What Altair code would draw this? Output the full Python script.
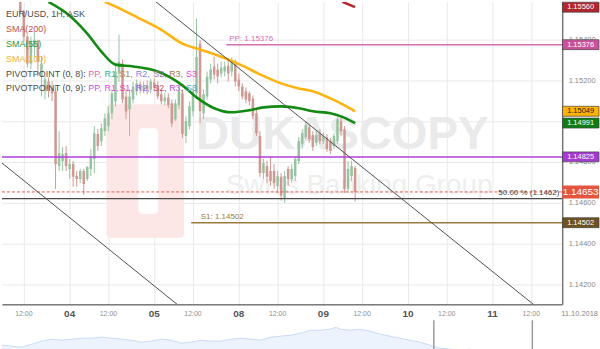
import altair as alt
import pandas as pd

# ---------------- data ----------------
HOURS = list(range(-19, 82))  # hourly candle index, 0 = day "04" 00:00
OPEN = [1.15708, 1.15659, 1.15620, 1.15645, 1.15620, 1.15600, 1.15537, 1.15415, 1.15283, 1.15366,
        1.15391, 1.15220, 1.15147, 1.15195, 1.15166, 1.15147, 1.14780, 1.14805, 1.14844,
        1.14766, 1.14790, 1.14731, 1.14717, 1.14756, 1.14717, 1.14766, 1.14815, 1.14937, 1.14902,
        1.14951, 1.14976, 1.15039, 1.15098, 1.15234, 1.15283, 1.15122, 1.15059, 1.15107, 1.15147,
        1.15181, 1.15156, 1.15176, 1.15156,
        1.15190, 1.15176, 1.15132, 1.15098, 1.15117, 1.15088, 1.15010, 1.15078, 1.15137, 1.14927,
        1.14976, 1.15049, 1.15137, 1.15381, 1.15039, 1.15122, 1.15205, 1.15269, 1.15254, 1.15234,
        1.15244, 1.15273, 1.15244, 1.15283,
        1.15205, 1.15171, 1.15147, 1.15137, 1.15112, 1.15039, 1.14927, 1.14746, 1.14780, 1.14756,
        1.14756, 1.14683, 1.14727, 1.14619, 1.14766, 1.14717, 1.14731, 1.14805, 1.14888, 1.14922,
        1.14971, 1.14932, 1.14893, 1.14941,
        1.14902, 1.14922, 1.14902, 1.14878, 1.14902, 1.15000, 1.14961, 1.14668, 1.14731, 1.14771]
HIGH = [1.15733, 1.15674, 1.15659, 1.15654, 1.15630, 1.15610, 1.15547, 1.15425, 1.15415, 1.15440,
        1.15400, 1.15317, 1.15220, 1.15215, 1.15195, 1.15171, 1.14951, 1.14873, 1.14878,
        1.14815, 1.14805, 1.14756, 1.14766, 1.14766, 1.14780, 1.14863, 1.14976, 1.14961, 1.14990,
        1.15039, 1.15073, 1.15156, 1.15283, 1.15425, 1.15303, 1.15156, 1.15156, 1.15195, 1.15205,
        1.15195, 1.15195, 1.15200, 1.15210,
        1.15210, 1.15195, 1.15156, 1.15137, 1.15137, 1.15107, 1.15107, 1.15171, 1.15156, 1.15024,
        1.15098, 1.15171, 1.15503, 1.15400, 1.15156, 1.15244, 1.15283, 1.15317, 1.15283, 1.15293,
        1.15293, 1.15308, 1.15313, 1.15303,
        1.15234, 1.15186, 1.15166, 1.15147, 1.15127, 1.15059, 1.14951, 1.14815, 1.14805, 1.14829,
        1.14790, 1.14756, 1.14746, 1.14756, 1.14780, 1.14790, 1.14829, 1.14922, 1.14961, 1.15000,
        1.14981, 1.14951, 1.14951, 1.14961,
        1.14946, 1.14937, 1.14917, 1.14941, 1.15020, 1.15020, 1.14976, 1.14805, 1.14805, 1.14780]
LOW = [1.15625, 1.15600, 1.15605, 1.15598, 1.15586, 1.15527, 1.15391, 1.15264, 1.15254, 1.15317,
       1.15220, 1.15122, 1.15107, 1.15117, 1.15098, 1.14668, 1.14756, 1.14756, 1.14756,
       1.14717, 1.14678, 1.14678, 1.14697, 1.14639, 1.14707, 1.14731, 1.14746, 1.14854, 1.14878,
       1.14927, 1.14951, 1.15010, 1.15073, 1.15195, 1.15088, 1.15010, 1.14927, 1.15088, 1.15127,
       1.15137, 1.15137, 1.15132, 1.15137,
       1.15147, 1.15107, 1.15083, 1.15078, 1.15064, 1.14971, 1.15000, 1.15059, 1.14917, 1.14893,
       1.14961, 1.15024, 1.15122, 1.14990, 1.15010, 1.15107, 1.15186, 1.15205, 1.15186, 1.15215,
       1.15220, 1.15195, 1.15220, 1.15171,
       1.15147, 1.15107, 1.15088, 1.15078, 1.15010, 1.14927, 1.14727, 1.14717, 1.14697, 1.14683,
       1.14668, 1.14648, 1.14610, 1.14600, 1.14683, 1.14697, 1.14707, 1.14790, 1.14873, 1.14912,
       1.14893, 1.14854, 1.14878, 1.14888,
       1.14888, 1.14849, 1.14839, 1.14863, 1.14888, 1.14927, 1.14648, 1.14648, 1.14707, 1.14605]
CLOSE = [1.15659, 1.15610, 1.15645, 1.15606, 1.15590, 1.15537, 1.15415, 1.15283, 1.15391, 1.15400,
         1.15293, 1.15283, 1.15205, 1.15156, 1.15137, 1.14790, 1.14844, 1.14839, 1.14780,
         1.14790, 1.14727, 1.14717, 1.14756, 1.14692, 1.14775, 1.14829, 1.14941, 1.14878, 1.14966,
         1.15015, 1.15039, 1.15137, 1.15244, 1.15293, 1.15107, 1.15049, 1.15122, 1.15171, 1.15186,
         1.15156, 1.15171, 1.15156, 1.15195,
         1.15166, 1.15122, 1.15098, 1.15117, 1.15078, 1.14990, 1.15088, 1.15147, 1.14937, 1.15000,
         1.15073, 1.15147, 1.15317, 1.15049, 1.15132, 1.15220, 1.15254, 1.15230, 1.15220, 1.15264,
         1.15269, 1.15234, 1.15293, 1.15195,
         1.15171, 1.15122, 1.15107, 1.15098, 1.15024, 1.14941, 1.14746, 1.14795, 1.14727, 1.14707,
         1.14697, 1.14731, 1.14634, 1.14731, 1.14717, 1.14766, 1.14815, 1.14902, 1.14941, 1.14981,
         1.14912, 1.14873, 1.14932, 1.14902,
         1.14927, 1.14863, 1.14854, 1.14927, 1.15010, 1.14951, 1.14668, 1.14766, 1.14780, 1.14653]

SMA55_H = [-7, -6, 0, 5, 9, 13, 18, 25, 32, 36, 41, 46, 51, 55, 60, 65, 69, 74, 77, 81]
SMA55_V = [1.15610, 1.15586, 1.15518, 1.15430, 1.15342, 1.15278, 1.15269, 1.15244, 1.15176, 1.15117,
           1.15064, 1.15044, 1.15054, 1.15068, 1.15073, 1.15064, 1.15049, 1.15039, 1.15024, 1.14991]
SMA100_H = [4, 10, 15, 20, 26, 32, 37, 43, 49, 54, 60, 65, 69, 74, 78, 81]
SMA100_V = [1.15635, 1.15586, 1.15547, 1.15503, 1.15449, 1.15381, 1.15352, 1.15317, 1.15273, 1.15230,
            1.15186, 1.15161, 1.15147, 1.15112, 1.15078, 1.15049]
SMA200_H = [77.4, 81]
SMA200_V = [1.15586, 1.15560]

TREND1_H = [-19.2, 30.5]
TREND1_V = [1.14795, 1.14101]
TREND2_H = [24.5, 131.6]
TREND2_V = [1.15586, 1.14101]

PP8 = 1.15376
S18 = 1.14502
PP9 = 1.14825
LAST = 1.14653
FIB50 = 1.1462

TAG_PRICE = [1.15560, 1.15376, 1.15049, 1.14991, 1.14825, 1.14502]
TAG_FILL = ["#b3262b", "#c9529a", "#ffb200", "#0f7d16", "#a53ad0", "#6f5220"]
TAG_TEXT = ["white", "white", "#222222", "white", "white", "white"]

DAY_TICKS = [0, 24, 48, 72, 96, 120]
DAY_LABELS = ["04", "05", "08", "09", "10", "11"]
NOON_TICKS = [-13, 11, 35, 59, 83, 107, 131]
NOON_LABEL = "12:00"
DATE_LABEL = "11.10.2018"
Y_TICKS = [1.142, 1.144, 1.146, 1.148, 1.150, 1.152, 1.154]

NAV_T = [0, 10, 20, 30, 40, 50, 60, 70, 80, 90, 100, 110, 120, 130, 140, 150, 160, 170, 180, 190,
         200, 210, 220, 230, 240, 250, 260, 270, 280, 290, 300, 310, 320, 330, 336, 340, 350, 360,
         370, 380, 390, 400, 410, 420, 430, 440, 450, 460, 470, 480, 492]
NAV_V = [6, 5, 4, 7, 10, 12, 11, 12, 13, 13, 14, 13, 12, 11, 9, 10, 12, 11, 8, 9,
         11, 10, 10, 12, 13, 12, 11, 14, 15, 16, 18, 21, 21, 22, 24, 22, 21, 22,
         20, 17, 15, 13, 11, 9, 6, 3, 2, 1, 2, 0, 0]
NAV_HANDLES = [434, 533]

# ---------------- geometry of the scales ----------------
XD = [-19.2, 139.76]
YD = [1.14101, 1.15586]
W, H = 563, 304
PX_X = (XD[1] - XD[0]) / W      # hours per pixel
PX_Y = (YD[1] - YD[0]) / H      # price per pixel
FONT = "Liberation Sans"
TOP = YD[1]

xs = alt.Scale(domain=XD, nice=False, zero=False)
ys = alt.Scale(domain=YD, nice=False, zero=False)
hx = lambda px: XD[0] + px * PX_X
py = lambda px: YD[1] - px * PX_Y

candles = pd.DataFrame({"hour": HOURS, "open": OPEN, "high": HIGH, "low": LOW, "close": CLOSE})
candles["dir"] = ["up" if c >= o else "down" for o, c in zip(OPEN, CLOSE)]

x_axis = alt.Axis(values=sorted(DAY_TICKS + NOON_TICKS), labels=False, title=None, grid=True,
                  gridColor="#e9e9e9", gridWidth=1, domainColor="#333333", domainWidth=1,
                  ticks=False, zindex=0)
y_axis = alt.Axis(orient="right", values=Y_TICKS, format=".5f", labelFontSize=7.5,
                  labelColor="#888888", labelFont=FONT, grid=True, gridColor="#e9e9e9",
                  domainColor="#777777", domainWidth=1.5, ticks=False, labelPadding=6, title=None,
                  zindex=0)

# other layers leave the axis unspecified so that the axes layer's axes are kept
X = lambda f: alt.X(f, scale=xs)
Y = lambda f: alt.Y(f, scale=ys)

# ---- axes carrier (first layer) ----
axes = alt.Chart(candles).mark_rule(opacity=0).encode(
    x=alt.X("hour:Q", scale=xs, axis=x_axis), y=alt.Y("low:Q", scale=ys, axis=y_axis)
).transform_filter(f"datum.low <= {TOP}")

# ---- x tick labels as text below the plot ----
day_df = pd.DataFrame({"h": DAY_TICKS, "t": DAY_LABELS, "y": YD[0]})
noon_df = pd.DataFrame({"h": NOON_TICKS, "t": NOON_LABEL, "y": YD[0]})
day_t = alt.Chart(day_df).mark_text(dy=9.5, baseline="middle", fontSize=10, fontWeight="bold",
                                    color="#555555", font=FONT).encode(
    x=X("h:Q"), y=Y("y:Q"), text="t:N")
noon_t = alt.Chart(noon_df).mark_text(dy=9.5, baseline="middle", fontSize=7, color="#8f8f8f",
                                      font=FONT).encode(x=X("h:Q"), y=Y("y:Q"), text="t:N")
date_t = alt.Chart(pd.DataFrame({"h": [XD[1] + 17.5 * PX_X], "t": [DATE_LABEL], "y": [YD[0]]})).mark_text(
    dy=9.5, baseline="middle", fontSize=7.5, color="#888888", font=FONT).encode(
    x=X("h:Q"), y=Y("y:Q"), text="t:N")

# ---- watermark (logo + brand text) ----
logo = pd.DataFrame({
    "x": [hx(105), hx(137)], "x2": [hx(183), hx(157)],
    "y": [py(103), py(127)], "y2": [py(237), py(213)],
    "c": ["#fce6e6", "#ffffff"]})
logo_l = alt.Chart(logo).mark_rect(cornerRadius=4).encode(
    x=X("x:Q"), x2="x2:Q", y=Y("y:Q"), y2="y2:Q", color=alt.Color("c:N", scale=None))
wm1 = alt.Chart(pd.DataFrame({"t": ["DUKASCOPY"], "x": [hx(342)], "y": [py(134)]})).mark_text(
    font=FONT, fontSize=46, fontWeight="bold", color="#eaeaea").encode(x=X("x:Q"), y=Y("y:Q"), text="t:N")
wm2 = alt.Chart(pd.DataFrame({"t": ["Swiss Banking Group"], "x": [hx(359)], "y": [py(185)]})).mark_text(
    font=FONT, fontSize=28, color="#eeeeee").encode(x=X("x:Q"), y=Y("y:Q"), text="t:N")

# ---- candles (parts above the top edge are cut at the edge) ----
ccol = alt.Color("dir:N", scale=alt.Scale(domain=["up", "down"], range=["#3d8550", "#a3372b"]), legend=None)
wcol = alt.Color("dir:N", scale=alt.Scale(domain=["up", "down"], range=["#98c3a2", "#cf9891"]), legend=None)
cbase = alt.Chart(candles).transform_filter(f"datum.low < {TOP}").transform_calculate(
    hi=f"min(datum.high, {TOP})",
    btop=f"min(max(datum.open, datum.close), {TOP})",
    bbot=f"min(min(datum.open, datum.close), {TOP})",
    xl="datum.hour - 0.36", xr="datum.hour + 0.36")
wicks = cbase.mark_rule(strokeWidth=1, clip=True).encode(
    x=X("hour:Q"), y=Y("low:Q"), y2="hi:Q", color=wcol)
bodies = cbase.mark_rect(clip=True).encode(
    x=X("xl:Q"), x2="xr:Q", y=Y("bbot:Q"), y2="btop:Q", color=ccol)


def sma(hs, vs, color):
    d = pd.DataFrame({"h": hs, "v": vs})
    return alt.Chart(d).transform_filter(f"datum.v <= {TOP}").mark_line(
        color=color, strokeWidth=2.6, interpolate="monotone", clip=True).encode(x=X("h:Q"), y=Y("v:Q"))


s55 = sma(SMA55_H, SMA55_V, "#138a13")
s100 = sma(SMA100_H, SMA100_V, "#ffb310")
s200 = sma(SMA200_H, SMA200_V, "#b3262b")


def trend(hs, vs):
    d = pd.DataFrame({"h": hs, "v": vs})
    return alt.Chart(d).mark_line(color="#505050", strokeWidth=1, clip=True).encode(x=X("h:Q"), y=Y("v:Q"))


t1 = trend(TREND1_H, TREND1_V)
t2 = trend(TREND2_H, TREND2_V)

levels = pd.DataFrame({
    "x": [44.5, 34.5, XD[0], XD[0]], "x2": [XD[1]] * 4,
    "y": [PP8, S18, PP9, FIB50],
    "c": ["#d46fb3", "#9c7a3c", "#b03fe0", "#4a4a4a"],
    "w": [1.5, 1.5, 1.5, 1.3]})
lev = alt.Chart(levels).mark_rule(clip=True).encode(
    x=X("x:Q"), x2="x2:Q", y=Y("y:Q"), color=alt.Color("c:N", scale=None),
    strokeWidth=alt.StrokeWidth("w:Q", scale=None))
last_line = alt.Chart(pd.DataFrame({"x": [XD[0]], "x2": [XD[1]], "y": [LAST]})).mark_rule(
    color="#e0604e", strokeWidth=1, strokeDash=[3, 2], clip=True).encode(
    x=X("x:Q"), x2="x2:Q", y=Y("y:Q"))

lvl_text = pd.DataFrame({
    "x": [45.3, 37.2, XD[1] - 0.8], "y": [PP8, S18, FIB50],
    "t": [f"PP: {PP8:.5f}", f"S1: {S18:.5f}", f"50.00 % ({FIB50})"],
    "c": ["#d46fb3", "#9c7a3c", "#444444"]})
lt_left = alt.Chart(lvl_text.iloc[:2]).mark_text(align="left", baseline="bottom", dy=-1.5, fontSize=8,
                                                 font=FONT).encode(
    x=X("x:Q"), y=Y("y:Q"), text="t:N", color=alt.Color("c:N", scale=None))
lt_right = alt.Chart(lvl_text.iloc[[2]]).mark_text(align="right", baseline="bottom", dy=-1.5, fontSize=8,
                                                   font=FONT).encode(
    x=X("x:Q"), y=Y("y:Q"), text="t:N", color=alt.Color("c:N", scale=None))

# ---- price tags on the right axis ----
tag_w = 37 * PX_X
tags = pd.DataFrame({"p": TAG_PRICE, "fill": TAG_FILL, "tc": TAG_TEXT,
                     "t": [f"{p:.5f}" for p in TAG_PRICE]})
tags["y1"] = tags["p"] - 5 * PX_Y
tags["y2"] = [min(v, TOP) for v in tags["p"] + 5 * PX_Y]
tags["x1"] = XD[1] + 0.1
tags["x2"] = XD[1] + tag_w
tags["xm"] = XD[1] + tag_w / 2
tag_r = alt.Chart(tags).mark_rect(stroke="#444444", strokeWidth=0.7).encode(
    x=X("x1:Q"), x2="x2:Q", y=Y("y1:Q"), y2="y2:Q", color=alt.Color("fill:N", scale=None))
tag_t = alt.Chart(tags).mark_text(fontSize=7.5, font=FONT, baseline="middle").encode(
    x=X("xm:Q"), y=Y("p:Q"), text="t:N", color=alt.Color("tc:N", scale=None))
cur = pd.DataFrame({"p": [LAST], "t": [f"{LAST:.5f}"]})
cur["y1"] = cur["p"] - 6.5 * PX_Y
cur["y2"] = cur["p"] + 6.5 * PX_Y
cur["x1"] = XD[1]
cur["x2"] = XD[1] + tag_w
cur["xm"] = XD[1] + tag_w / 2
cur_r = alt.Chart(cur).mark_rect(color="#e4553f").encode(x=X("x1:Q"), x2="x2:Q", y=Y("y1:Q"), y2="y2:Q")
cur_t = alt.Chart(cur).mark_text(fontSize=10, font=FONT, color="white", baseline="middle").encode(
    x=X("xm:Q"), y=Y("p:Q"), text="t:N")

# ---- legend text (top-left) ----
G = "#4a4a4a"
seg = [("EUR/USD, 1H, ASK", 4, 12, G), ("SMA(200)", 4, 27, "#c0504d"), ("SMA(55)", 4, 42, "#2e9a3e"),
       ("SMA(100)", 4, 57, "#f2b233"), ("PIVOTPOINT (0, 8): ", 4, 72, G), ("PIVOTPOINT (0, 9): ", 4, 87, G)]
row8 = [("PP,", "#e065b5"), ("R1,", "#2fb38f"), ("S1,", "#a88a4a"), ("R2,", "#7f84e0"),
        ("S2,", "#a377a8"), ("R3,", "#a8784a"), ("S3", "#e045e0")]
row9 = [("PP,", "#c04ff0"), ("R1,", "#f045f0"), ("S1,", "#e04ab0"), ("R2,", "#8a6cf0"),
        ("S2,", "#d04a78"), ("R3,", "#c848d8"), ("S3", "#3aa5d5")]
xpos = [86.7, 103, 118, 134.5, 152, 168, 185]
for (t, c), xp in zip(row8, xpos):
    seg.append((t, xp, 72, c))
for (t, c), xp in zip(row9, xpos):
    seg.append((t, xp, 87, c))
leg = pd.DataFrame(seg, columns=["t", "px", "py", "c"])
leg["hx"] = [hx(v) for v in leg["px"]]
leg["pv"] = [py(v) for v in leg["py"]]
legend = alt.Chart(leg).mark_text(align="left", baseline="middle", fontSize=9, font=FONT).encode(
    x=X("hx:Q"), y=Y("pv:Q"), text="t:N", color=alt.Color("c:N", scale=None))

main = alt.layer(
    axes, logo_l, wm1, wm2, wicks, bodies, lev, last_line, s200, s100, s55, t1, t2,
    lt_left, lt_right, tag_r, tag_t, cur_r, cur_t, legend, day_t, noon_t, date_t
).properties(width=W, height=H)

# ---- navigator ----
nav_df = pd.DataFrame({"t": NAV_T, "v": NAV_V})
ns_x = alt.Scale(domain=[0, 600], nice=False, zero=False)
ns_y = alt.Scale(domain=[0, 31], nice=False, zero=True)
nav_area = alt.Chart(nav_df).mark_area(color="#e4eefc", line={"color": "#c9dbf5", "strokeWidth": 1}).encode(
    x=alt.X("t:Q", scale=ns_x, axis=None), y=alt.Y("v:Q", scale=ns_y, axis=None))
nav_h = alt.Chart(pd.DataFrame({"t": NAV_HANDLES, "a": 0, "b": 31})).mark_rule(
    color="#9a9a9a", strokeWidth=1.5).encode(
    x=alt.X("t:Q", scale=ns_x, axis=None), y=alt.Y("a:Q", scale=ns_y, axis=None), y2="b:Q")
nav = alt.layer(nav_area, nav_h).properties(width=600, height=31)

chart = alt.vconcat(main, nav, spacing=0).properties(
    padding=0, background="white").configure_view(stroke=None)

chart.save("out.html", embed_options={"renderer": "svg", "actions": False})
